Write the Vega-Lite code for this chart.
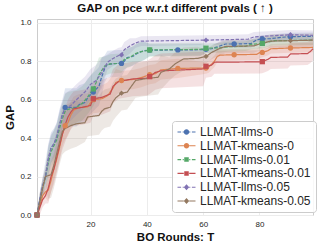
{
"$schema": "https://vega.github.io/schema/vega-lite/v6.json",
"width": 276, "height": 196,
"autosize": {"type": "none"},
"padding": {"left": 37, "top": 19, "right": 6, "bottom": 33},
"background": "white",
"config": {
  "font": "Liberation Sans",
  "view": {"stroke": "#cccccc", "strokeWidth": 1},
  "axis": {"grid": true, "gridColor": "#ececec", "gridWidth": 1, "domain": false, "ticks": false, "labelFontSize": 8, "labelColor": "#262626", "titleFontSize": 11.5, "titleFontWeight": "bold", "titleColor": "#111111", "labelOverlap": false, "labelFlush": false, "labelBound": false}
},
"title": {"text": "GAP on pce w.r.t different pvals ( ↑ )", "fontSize": 11.5, "fontWeight": "bold", "color": "#111111", "offset": 4, "anchor": "middle"},
"data": {"values": [
{"s":"LLMAT-llms-0","x":1,"y":0,"lo":0,"hi":0,"m":1},
{"s":"LLMAT-llms-0","x":2,"y":0.08,"lo":0.05,"hi":0.11},
{"s":"LLMAT-llms-0","x":3,"y":0.15,"lo":0.10,"hi":0.20},
{"s":"LLMAT-llms-0","x":4,"y":0.20,"lo":0.12,"hi":0.28},
{"s":"LLMAT-llms-0","x":5,"y":0.29,"lo":0.21,"hi":0.37},
{"s":"LLMAT-llms-0","x":6,"y":0.35,"lo":0.27,"hi":0.43},
{"s":"LLMAT-llms-0","x":7,"y":0.37,"lo":0.29,"hi":0.45},
{"s":"LLMAT-llms-0","x":8,"y":0.40,"lo":0.32,"hi":0.48},
{"s":"LLMAT-llms-0","x":9,"y":0.47,"lo":0.39,"hi":0.55},
{"s":"LLMAT-llms-0","x":10,"y":0.52,"lo":0.44,"hi":0.60},
{"s":"LLMAT-llms-0","x":11,"y":0.56,"lo":0.46,"hi":0.66,"m":1},
{"s":"LLMAT-llms-0","x":12,"y":0.56,"lo":0.46,"hi":0.66},
{"s":"LLMAT-llms-0","x":15,"y":0.56,"lo":0.46,"hi":0.66},
{"s":"LLMAT-llms-0","x":16,"y":0.575,"lo":0.475,"hi":0.675},
{"s":"LLMAT-llms-0","x":18,"y":0.585,"lo":0.485,"hi":0.685},
{"s":"LLMAT-llms-0","x":19,"y":0.61,"lo":0.51,"hi":0.71},
{"s":"LLMAT-llms-0","x":21,"y":0.64,"lo":0.54,"hi":0.74,"m":1},
{"s":"LLMAT-llms-0","x":22,"y":0.655,"lo":0.555,"hi":0.755},
{"s":"LLMAT-llms-0","x":23,"y":0.67,"lo":0.57,"hi":0.77},
{"s":"LLMAT-llms-0","x":24,"y":0.72,"lo":0.62,"hi":0.82},
{"s":"LLMAT-llms-0","x":25,"y":0.76,"lo":0.69,"hi":0.83},
{"s":"LLMAT-llms-0","x":26,"y":0.785,"lo":0.715,"hi":0.855},
{"s":"LLMAT-llms-0","x":30,"y":0.789,"lo":0.719,"hi":0.859},
{"s":"LLMAT-llms-0","x":31,"y":0.789,"lo":0.719,"hi":0.859,"m":1},
{"s":"LLMAT-llms-0","x":32,"y":0.80,"lo":0.75,"hi":0.85},
{"s":"LLMAT-llms-0","x":33,"y":0.82,"lo":0.77,"hi":0.87},
{"s":"LLMAT-llms-0","x":35,"y":0.825,"lo":0.775,"hi":0.875},
{"s":"LLMAT-llms-0","x":37,"y":0.845,"lo":0.795,"hi":0.895},
{"s":"LLMAT-llms-0","x":39,"y":0.855,"lo":0.805,"hi":0.905},
{"s":"LLMAT-llms-0","x":41,"y":0.858,"lo":0.828,"hi":0.888,"m":1},
{"s":"LLMAT-llms-0","x":51,"y":0.859,"lo":0.829,"hi":0.889,"m":1},
{"s":"LLMAT-llms-0","x":59,"y":0.86,"lo":0.83,"hi":0.89},
{"s":"LLMAT-llms-0","x":61,"y":0.862,"lo":0.842,"hi":0.882,"m":1},
{"s":"LLMAT-llms-0","x":63,"y":0.865,"lo":0.845,"hi":0.885},
{"s":"LLMAT-llms-0","x":65,"y":0.875,"lo":0.855,"hi":0.895},
{"s":"LLMAT-llms-0","x":67,"y":0.885,"lo":0.865,"hi":0.905},
{"s":"LLMAT-llms-0","x":68,"y":0.89,"lo":0.87,"hi":0.91},
{"s":"LLMAT-llms-0","x":71,"y":0.89,"lo":0.87,"hi":0.91,"m":1},
{"s":"LLMAT-llms-0","x":77,"y":0.892,"lo":0.872,"hi":0.912},
{"s":"LLMAT-llms-0","x":79,"y":0.912,"lo":0.892,"hi":0.932},
{"s":"LLMAT-llms-0","x":81,"y":0.916,"lo":0.896,"hi":0.936,"m":1},
{"s":"LLMAT-llms-0","x":84,"y":0.918,"lo":0.898,"hi":0.938},
{"s":"LLMAT-llms-0","x":88,"y":0.925,"lo":0.905,"hi":0.945},
{"s":"LLMAT-llms-0","x":91,"y":0.928,"lo":0.908,"hi":0.948,"m":1},
{"s":"LLMAT-llms-0","x":99,"y":0.93,"lo":0.91,"hi":0.95},

{"s":"LLMAT-kmeans-0","x":1,"y":0,"lo":0,"hi":0,"m":1},
{"s":"LLMAT-kmeans-0","x":2,"y":0.05,"lo":0.02,"hi":0.08},
{"s":"LLMAT-kmeans-0","x":3,"y":0.10,"lo":0.07,"hi":0.13},
{"s":"LLMAT-kmeans-0","x":4,"y":0.12,"lo":0.09,"hi":0.15},
{"s":"LLMAT-kmeans-0","x":5,"y":0.13,"lo":0.07,"hi":0.19},
{"s":"LLMAT-kmeans-0","x":6,"y":0.18,"lo":0.12,"hi":0.24},
{"s":"LLMAT-kmeans-0","x":7,"y":0.24,"lo":0.18,"hi":0.30},
{"s":"LLMAT-kmeans-0","x":8,"y":0.29,"lo":0.23,"hi":0.35},
{"s":"LLMAT-kmeans-0","x":9,"y":0.35,"lo":0.29,"hi":0.41},
{"s":"LLMAT-kmeans-0","x":10,"y":0.42,"lo":0.36,"hi":0.48},
{"s":"LLMAT-kmeans-0","x":11,"y":0.465,"lo":0.395,"hi":0.535,"m":1},
{"s":"LLMAT-kmeans-0","x":12,"y":0.48,"lo":0.41,"hi":0.55},
{"s":"LLMAT-kmeans-0","x":13,"y":0.52,"lo":0.45,"hi":0.59},
{"s":"LLMAT-kmeans-0","x":14,"y":0.545,"lo":0.475,"hi":0.615},
{"s":"LLMAT-kmeans-0","x":16,"y":0.56,"lo":0.49,"hi":0.63},
{"s":"LLMAT-kmeans-0","x":19,"y":0.562,"lo":0.492,"hi":0.632},
{"s":"LLMAT-kmeans-0","x":20,"y":0.585,"lo":0.515,"hi":0.655},
{"s":"LLMAT-kmeans-0","x":21,"y":0.60,"lo":0.53,"hi":0.67,"m":1},
{"s":"LLMAT-kmeans-0","x":24,"y":0.605,"lo":0.535,"hi":0.675},
{"s":"LLMAT-kmeans-0","x":26,"y":0.62,"lo":0.55,"hi":0.69},
{"s":"LLMAT-kmeans-0","x":28,"y":0.66,"lo":0.59,"hi":0.73},
{"s":"LLMAT-kmeans-0","x":29,"y":0.69,"lo":0.62,"hi":0.76},
{"s":"LLMAT-kmeans-0","x":31,"y":0.70,"lo":0.65,"hi":0.75,"m":1},
{"s":"LLMAT-kmeans-0","x":35,"y":0.705,"lo":0.655,"hi":0.755},
{"s":"LLMAT-kmeans-0","x":38,"y":0.715,"lo":0.665,"hi":0.765},
{"s":"LLMAT-kmeans-0","x":41,"y":0.73,"lo":0.68,"hi":0.78,"m":1},
{"s":"LLMAT-kmeans-0","x":43,"y":0.735,"lo":0.685,"hi":0.785},
{"s":"LLMAT-kmeans-0","x":45,"y":0.755,"lo":0.705,"hi":0.805},
{"s":"LLMAT-kmeans-0","x":51,"y":0.763,"lo":0.713,"hi":0.813,"m":1},
{"s":"LLMAT-kmeans-0","x":61,"y":0.765,"lo":0.735,"hi":0.795,"m":1},
{"s":"LLMAT-kmeans-0","x":62,"y":0.77,"lo":0.74,"hi":0.80},
{"s":"LLMAT-kmeans-0","x":64,"y":0.80,"lo":0.77,"hi":0.83},
{"s":"LLMAT-kmeans-0","x":65,"y":0.825,"lo":0.795,"hi":0.855},
{"s":"LLMAT-kmeans-0","x":66,"y":0.832,"lo":0.802,"hi":0.862},
{"s":"LLMAT-kmeans-0","x":71,"y":0.834,"lo":0.804,"hi":0.864,"m":1},
{"s":"LLMAT-kmeans-0","x":79,"y":0.836,"lo":0.806,"hi":0.866},
{"s":"LLMAT-kmeans-0","x":80,"y":0.845,"lo":0.815,"hi":0.875},
{"s":"LLMAT-kmeans-0","x":81,"y":0.846,"lo":0.821,"hi":0.871,"m":1},
{"s":"LLMAT-kmeans-0","x":83,"y":0.855,"lo":0.83,"hi":0.88},
{"s":"LLMAT-kmeans-0","x":84,"y":0.865,"lo":0.84,"hi":0.89},
{"s":"LLMAT-kmeans-0","x":91,"y":0.869,"lo":0.844,"hi":0.894,"m":1},
{"s":"LLMAT-kmeans-0","x":99,"y":0.872,"lo":0.847,"hi":0.897},

{"s":"LLMAT-llms-0.01","x":1,"y":0,"lo":0,"hi":0,"m":1},
{"s":"LLMAT-llms-0.01","x":2,"y":0.07,"lo":0.03,"hi":0.11},
{"s":"LLMAT-llms-0.01","x":3,"y":0.14,"lo":0.10,"hi":0.18},
{"s":"LLMAT-llms-0.01","x":4,"y":0.20,"lo":0.16,"hi":0.24},
{"s":"LLMAT-llms-0.01","x":5,"y":0.27,"lo":0.19,"hi":0.35},
{"s":"LLMAT-llms-0.01","x":6,"y":0.33,"lo":0.25,"hi":0.41},
{"s":"LLMAT-llms-0.01","x":7,"y":0.36,"lo":0.28,"hi":0.44},
{"s":"LLMAT-llms-0.01","x":8,"y":0.39,"lo":0.31,"hi":0.47},
{"s":"LLMAT-llms-0.01","x":9,"y":0.45,"lo":0.37,"hi":0.53},
{"s":"LLMAT-llms-0.01","x":10,"y":0.50,"lo":0.42,"hi":0.58},
{"s":"LLMAT-llms-0.01","x":11,"y":0.54,"lo":0.45,"hi":0.63},
{"s":"LLMAT-llms-0.01","x":12,"y":0.55,"lo":0.46,"hi":0.64},
{"s":"LLMAT-llms-0.01","x":15,"y":0.56,"lo":0.47,"hi":0.65},
{"s":"LLMAT-llms-0.01","x":17,"y":0.58,"lo":0.49,"hi":0.67},
{"s":"LLMAT-llms-0.01","x":19,"y":0.615,"lo":0.525,"hi":0.705},
{"s":"LLMAT-llms-0.01","x":21,"y":0.656,"lo":0.566,"hi":0.746,"m":1},
{"s":"LLMAT-llms-0.01","x":22,"y":0.69,"lo":0.60,"hi":0.78},
{"s":"LLMAT-llms-0.01","x":23,"y":0.73,"lo":0.64,"hi":0.82},
{"s":"LLMAT-llms-0.01","x":25,"y":0.775,"lo":0.725,"hi":0.825},
{"s":"LLMAT-llms-0.01","x":27,"y":0.786,"lo":0.736,"hi":0.836},
{"s":"LLMAT-llms-0.01","x":31,"y":0.79,"lo":0.74,"hi":0.84},
{"s":"LLMAT-llms-0.01","x":32,"y":0.81,"lo":0.76,"hi":0.86},
{"s":"LLMAT-llms-0.01","x":34,"y":0.82,"lo":0.77,"hi":0.87},
{"s":"LLMAT-llms-0.01","x":36,"y":0.84,"lo":0.79,"hi":0.89},
{"s":"LLMAT-llms-0.01","x":38,"y":0.85,"lo":0.80,"hi":0.90},
{"s":"LLMAT-llms-0.01","x":41,"y":0.859,"lo":0.824,"hi":0.894,"m":1},
{"s":"LLMAT-llms-0.01","x":59,"y":0.862,"lo":0.827,"hi":0.897},
{"s":"LLMAT-llms-0.01","x":61,"y":0.868,"lo":0.843,"hi":0.893,"m":1},
{"s":"LLMAT-llms-0.01","x":66,"y":0.87,"lo":0.845,"hi":0.895},
{"s":"LLMAT-llms-0.01","x":69,"y":0.876,"lo":0.851,"hi":0.901},
{"s":"LLMAT-llms-0.01","x":75,"y":0.878,"lo":0.853,"hi":0.903},
{"s":"LLMAT-llms-0.01","x":77,"y":0.888,"lo":0.863,"hi":0.913},
{"s":"LLMAT-llms-0.01","x":81,"y":0.893,"lo":0.868,"hi":0.918,"m":1},
{"s":"LLMAT-llms-0.01","x":83,"y":0.90,"lo":0.875,"hi":0.925},
{"s":"LLMAT-llms-0.01","x":85,"y":0.907,"lo":0.882,"hi":0.932},
{"s":"LLMAT-llms-0.01","x":99,"y":0.91,"lo":0.885,"hi":0.935},

{"s":"LLMAT-kmeans-0.01","x":1,"y":0,"lo":0,"hi":0,"m":1},
{"s":"LLMAT-kmeans-0.01","x":2,"y":0.04,"lo":0,"hi":0.08},
{"s":"LLMAT-kmeans-0.01","x":3,"y":0.08,"lo":0.04,"hi":0.12},
{"s":"LLMAT-kmeans-0.01","x":4,"y":0.10,"lo":0.06,"hi":0.14},
{"s":"LLMAT-kmeans-0.01","x":5,"y":0.14,"lo":0.06,"hi":0.22},
{"s":"LLMAT-kmeans-0.01","x":6,"y":0.20,"lo":0.12,"hi":0.28},
{"s":"LLMAT-kmeans-0.01","x":7,"y":0.24,"lo":0.16,"hi":0.32},
{"s":"LLMAT-kmeans-0.01","x":8,"y":0.30,"lo":0.22,"hi":0.38},
{"s":"LLMAT-kmeans-0.01","x":9,"y":0.36,"lo":0.28,"hi":0.44},
{"s":"LLMAT-kmeans-0.01","x":10,"y":0.42,"lo":0.34,"hi":0.50},
{"s":"LLMAT-kmeans-0.01","x":11,"y":0.47,"lo":0.38,"hi":0.56},
{"s":"LLMAT-kmeans-0.01","x":12,"y":0.51,"lo":0.42,"hi":0.60},
{"s":"LLMAT-kmeans-0.01","x":13,"y":0.535,"lo":0.445,"hi":0.625},
{"s":"LLMAT-kmeans-0.01","x":14,"y":0.553,"lo":0.463,"hi":0.643},
{"s":"LLMAT-kmeans-0.01","x":17,"y":0.56,"lo":0.47,"hi":0.65},
{"s":"LLMAT-kmeans-0.01","x":20,"y":0.57,"lo":0.48,"hi":0.66},
{"s":"LLMAT-kmeans-0.01","x":21,"y":0.605,"lo":0.515,"hi":0.695,"m":1},
{"s":"LLMAT-kmeans-0.01","x":24,"y":0.612,"lo":0.522,"hi":0.702},
{"s":"LLMAT-kmeans-0.01","x":27,"y":0.63,"lo":0.54,"hi":0.72},
{"s":"LLMAT-kmeans-0.01","x":28,"y":0.67,"lo":0.58,"hi":0.76},
{"s":"LLMAT-kmeans-0.01","x":30,"y":0.695,"lo":0.605,"hi":0.785},
{"s":"LLMAT-kmeans-0.01","x":35,"y":0.708,"lo":0.618,"hi":0.798},
{"s":"LLMAT-kmeans-0.01","x":40,"y":0.712,"lo":0.622,"hi":0.802},
{"s":"LLMAT-kmeans-0.01","x":41,"y":0.72,"lo":0.63,"hi":0.81,"m":1},
{"s":"LLMAT-kmeans-0.01","x":43,"y":0.742,"lo":0.652,"hi":0.832},
{"s":"LLMAT-kmeans-0.01","x":45,"y":0.75,"lo":0.66,"hi":0.84},
{"s":"LLMAT-kmeans-0.01","x":60,"y":0.76,"lo":0.67,"hi":0.85},
{"s":"LLMAT-kmeans-0.01","x":61,"y":0.774,"lo":0.714,"hi":0.834,"m":1},
{"s":"LLMAT-kmeans-0.01","x":63,"y":0.78,"lo":0.72,"hi":0.84},
{"s":"LLMAT-kmeans-0.01","x":64,"y":0.795,"lo":0.735,"hi":0.855},
{"s":"LLMAT-kmeans-0.01","x":80,"y":0.797,"lo":0.737,"hi":0.857},
{"s":"LLMAT-kmeans-0.01","x":81,"y":0.798,"lo":0.738,"hi":0.858,"m":1},
{"s":"LLMAT-kmeans-0.01","x":83,"y":0.81,"lo":0.75,"hi":0.87},
{"s":"LLMAT-kmeans-0.01","x":84,"y":0.82,"lo":0.76,"hi":0.88},
{"s":"LLMAT-kmeans-0.01","x":90,"y":0.822,"lo":0.762,"hi":0.882},
{"s":"LLMAT-kmeans-0.01","x":91,"y":0.838,"lo":0.778,"hi":0.898},
{"s":"LLMAT-kmeans-0.01","x":97,"y":0.84,"lo":0.78,"hi":0.90},
{"s":"LLMAT-kmeans-0.01","x":98,"y":0.85,"lo":0.79,"hi":0.91},
{"s":"LLMAT-kmeans-0.01","x":99,"y":0.865,"lo":0.805,"hi":0.925},

{"s":"LLMAT-llms-0.05","x":1,"y":0,"lo":0,"hi":0,"m":1},
{"s":"LLMAT-llms-0.05","x":2,"y":0.08,"lo":0.04,"hi":0.12},
{"s":"LLMAT-llms-0.05","x":3,"y":0.15,"lo":0.11,"hi":0.19},
{"s":"LLMAT-llms-0.05","x":4,"y":0.20,"lo":0.16,"hi":0.24},
{"s":"LLMAT-llms-0.05","x":5,"y":0.29,"lo":0.22,"hi":0.36},
{"s":"LLMAT-llms-0.05","x":6,"y":0.35,"lo":0.28,"hi":0.42},
{"s":"LLMAT-llms-0.05","x":7,"y":0.37,"lo":0.30,"hi":0.44},
{"s":"LLMAT-llms-0.05","x":8,"y":0.41,"lo":0.34,"hi":0.48},
{"s":"LLMAT-llms-0.05","x":9,"y":0.47,"lo":0.40,"hi":0.54},
{"s":"LLMAT-llms-0.05","x":10,"y":0.52,"lo":0.45,"hi":0.59},
{"s":"LLMAT-llms-0.05","x":11,"y":0.555,"lo":0.475,"hi":0.635},
{"s":"LLMAT-llms-0.05","x":13,"y":0.57,"lo":0.49,"hi":0.65},
{"s":"LLMAT-llms-0.05","x":15,"y":0.60,"lo":0.52,"hi":0.68},
{"s":"LLMAT-llms-0.05","x":18,"y":0.64,"lo":0.56,"hi":0.72},
{"s":"LLMAT-llms-0.05","x":20,"y":0.68,"lo":0.60,"hi":0.76},
{"s":"LLMAT-llms-0.05","x":22,"y":0.70,"lo":0.62,"hi":0.78},
{"s":"LLMAT-llms-0.05","x":24,"y":0.74,"lo":0.66,"hi":0.82},
{"s":"LLMAT-llms-0.05","x":26,"y":0.795,"lo":0.755,"hi":0.835},
{"s":"LLMAT-llms-0.05","x":28,"y":0.815,"lo":0.775,"hi":0.855},
{"s":"LLMAT-llms-0.05","x":30,"y":0.83,"lo":0.79,"hi":0.87},
{"s":"LLMAT-llms-0.05","x":31,"y":0.833,"lo":0.793,"hi":0.873,"m":1},
{"s":"LLMAT-llms-0.05","x":32,"y":0.86,"lo":0.82,"hi":0.90},
{"s":"LLMAT-llms-0.05","x":34,"y":0.88,"lo":0.84,"hi":0.92},
{"s":"LLMAT-llms-0.05","x":36,"y":0.895,"lo":0.87,"hi":0.92},
{"s":"LLMAT-llms-0.05","x":38,"y":0.905,"lo":0.88,"hi":0.93},
{"s":"LLMAT-llms-0.05","x":61,"y":0.91,"lo":0.885,"hi":0.935,"m":1},
{"s":"LLMAT-llms-0.05","x":76,"y":0.915,"lo":0.89,"hi":0.94},
{"s":"LLMAT-llms-0.05","x":78,"y":0.927,"lo":0.902,"hi":0.952},
{"s":"LLMAT-llms-0.05","x":91,"y":0.938,"lo":0.913,"hi":0.963,"m":1},
{"s":"LLMAT-llms-0.05","x":99,"y":0.935,"lo":0.91,"hi":0.96},

{"s":"LLMAT-kmeans-0.05","x":1,"y":0,"lo":0,"hi":0,"m":1},
{"s":"LLMAT-kmeans-0.05","x":2,"y":0.07,"lo":0.02,"hi":0.12},
{"s":"LLMAT-kmeans-0.05","x":3,"y":0.14,"lo":0.09,"hi":0.19},
{"s":"LLMAT-kmeans-0.05","x":4,"y":0.20,"lo":0.15,"hi":0.25},
{"s":"LLMAT-kmeans-0.05","x":5,"y":0.205,"lo":0.085,"hi":0.325},
{"s":"LLMAT-kmeans-0.05","x":6,"y":0.21,"lo":0.09,"hi":0.33},
{"s":"LLMAT-kmeans-0.05","x":7,"y":0.26,"lo":0.14,"hi":0.38},
{"s":"LLMAT-kmeans-0.05","x":8,"y":0.32,"lo":0.20,"hi":0.44},
{"s":"LLMAT-kmeans-0.05","x":9,"y":0.38,"lo":0.26,"hi":0.50},
{"s":"LLMAT-kmeans-0.05","x":10,"y":0.435,"lo":0.315,"hi":0.555},
{"s":"LLMAT-kmeans-0.05","x":11,"y":0.45,"lo":0.33,"hi":0.57},
{"s":"LLMAT-kmeans-0.05","x":13,"y":0.465,"lo":0.345,"hi":0.585},
{"s":"LLMAT-kmeans-0.05","x":15,"y":0.475,"lo":0.355,"hi":0.595},
{"s":"LLMAT-kmeans-0.05","x":18,"y":0.48,"lo":0.38,"hi":0.58},
{"s":"LLMAT-kmeans-0.05","x":19,"y":0.51,"lo":0.41,"hi":0.61},
{"s":"LLMAT-kmeans-0.05","x":23,"y":0.518,"lo":0.418,"hi":0.618},
{"s":"LLMAT-kmeans-0.05","x":24,"y":0.54,"lo":0.44,"hi":0.64},
{"s":"LLMAT-kmeans-0.05","x":25,"y":0.553,"lo":0.453,"hi":0.653},
{"s":"LLMAT-kmeans-0.05","x":27,"y":0.561,"lo":0.461,"hi":0.661},
{"s":"LLMAT-kmeans-0.05","x":28,"y":0.59,"lo":0.49,"hi":0.69},
{"s":"LLMAT-kmeans-0.05","x":29,"y":0.61,"lo":0.51,"hi":0.71},
{"s":"LLMAT-kmeans-0.05","x":31,"y":0.634,"lo":0.544,"hi":0.724,"m":1},
{"s":"LLMAT-kmeans-0.05","x":33,"y":0.639,"lo":0.549,"hi":0.729},
{"s":"LLMAT-kmeans-0.05","x":35,"y":0.68,"lo":0.59,"hi":0.77},
{"s":"LLMAT-kmeans-0.05","x":36,"y":0.70,"lo":0.61,"hi":0.79},
{"s":"LLMAT-kmeans-0.05","x":39,"y":0.708,"lo":0.618,"hi":0.798},
{"s":"LLMAT-kmeans-0.05","x":44,"y":0.717,"lo":0.627,"hi":0.807},
{"s":"LLMAT-kmeans-0.05","x":45,"y":0.742,"lo":0.652,"hi":0.832},
{"s":"LLMAT-kmeans-0.05","x":48,"y":0.76,"lo":0.70,"hi":0.82},
{"s":"LLMAT-kmeans-0.05","x":50,"y":0.786,"lo":0.726,"hi":0.846},
{"s":"LLMAT-kmeans-0.05","x":53,"y":0.812,"lo":0.752,"hi":0.872},
{"s":"LLMAT-kmeans-0.05","x":58,"y":0.815,"lo":0.755,"hi":0.875},
{"s":"LLMAT-kmeans-0.05","x":61,"y":0.825,"lo":0.79,"hi":0.86,"m":1},
{"s":"LLMAT-kmeans-0.05","x":63,"y":0.846,"lo":0.811,"hi":0.881},
{"s":"LLMAT-kmeans-0.05","x":66,"y":0.868,"lo":0.833,"hi":0.903},
{"s":"LLMAT-kmeans-0.05","x":68,"y":0.877,"lo":0.842,"hi":0.912},
{"s":"LLMAT-kmeans-0.05","x":78,"y":0.88,"lo":0.845,"hi":0.915},
{"s":"LLMAT-kmeans-0.05","x":80,"y":0.89,"lo":0.855,"hi":0.925},
{"s":"LLMAT-kmeans-0.05","x":84,"y":0.905,"lo":0.87,"hi":0.94},
{"s":"LLMAT-kmeans-0.05","x":91,"y":0.907,"lo":0.872,"hi":0.942,"m":1},
{"s":"LLMAT-kmeans-0.05","x":99,"y":0.91,"lo":0.875,"hi":0.945}
]},
"encoding": {
  "x": {"field": "x", "type": "quantitative", "scale": {"domain": [1, 99], "nice": false, "zero": false},
        "axis": {"title": "BO Rounds: T", "values": [20, 40, 60, 80], "labelPadding": 5, "titlePadding": 3}}
},
"layer": [
  {"mark": {"type": "area", "opacity": 0.17},
   "encoding": {
     "y": {"field": "lo", "type": "quantitative", "scale": {"domain": [0, 1.02], "nice": false},
           "axis": {"title": "GAP", "values": [0, 0.2, 0.4, 0.6, 0.8, 1.0], "format": ".1f", "labelPadding": 6, "titlePadding": 4}},
     "y2": {"field": "hi"},
     "fill": {"field": "s", "type": "nominal", "legend": null,
              "scale": {"range": ["#dd8452","#c44e52","#937860","#4c72b0","#55a868","#8172b3"]}}
   }},
  {"mark": {"type": "line", "strokeWidth": 1.2},
   "encoding": {
     "y": {"field": "y", "type": "quantitative", "scale": {"domain": [0, 1.02], "nice": false},
           "axis": {"title": "GAP", "values": [0, 0.2, 0.4, 0.6, 0.8, 1.0], "format": ".1f", "labelPadding": 6, "titlePadding": 4}},
     "stroke": {"field": "s", "type": "nominal", "legend": null,
              "scale": {"range": ["#dd8452","#c44e52","#937860","#4c72b0","#55a868","#8172b3"]}},
     "strokeDash": {"field": "s", "type": "nominal", "legend": null,
                    "scale": {"range": [[1,0],[1,0],[1,0],[3.5,1.5],[3.5,1.5],[3.5,1.5]]}}
   }},
  {"transform": [{"filter": "datum.m == 1"}],
   "mark": {"type": "point", "filled": true, "opacity": 1, "size": 28},
   "encoding": {
     "y": {"field": "y", "type": "quantitative", "scale": {"domain": [0, 1.02], "nice": false},
           "axis": {"title": "GAP", "values": [0, 0.2, 0.4, 0.6, 0.8, 1.0], "format": ".1f", "labelPadding": 6, "titlePadding": 4}},
     "shape": {"field": "s", "type": "nominal", "legend": null,
               "scale": {"range": ["circle","square","diamond","circle","square","diamond"]}},
     "color": {"field": "s", "type": "nominal",
               "scale": {"domain": ["LLMAT-llms-0","LLMAT-kmeans-0","LLMAT-llms-0.01","LLMAT-kmeans-0.01","LLMAT-llms-0.05","LLMAT-kmeans-0.05"],
                         "range": ["#4c72b0","#dd8452","#55a868","#c44e52","#8172b3","#937860"]},
               "legend": {
                 "title": null, "orient": "none", "legendX": 135, "legendY": 102,
                 "labelFontSize": 12, "labelColor": "#262626", "labelLimit": 300, "labelOffset": 11,
                 "symbolSize": 100, "symbolStrokeWidth": 0, "symbolOpacity": 1,
                 "rowPadding": 1.8, "padding": 5,
                 "fillColor": "rgba(255,255,255,0.85)", "strokeColor": "#cccccc", "cornerRadius": 3,
                 "encode": {"symbols": {"update": {
                   "opacity": {"value": 1},
                   "fill": {"scale": "color", "field": "value"},
                   "stroke": {"value": "transparent"},
                   "shape": {"signal": "datum.value==='LLMAT-llms-0' ? 'M-1.1,-0.11H-0.38V0.11H-1.1Z M-0.06,-0.11H0.16V0.11H-0.06Z M1.24,-0.11H1.46V0.11H1.24Z M1.78,-0.11H2.5V0.11H1.78Z M0.16,0A0.54,0.54,0,1,1,1.24,0A0.54,0.54,0,1,1,0.16,0Z' : datum.value==='LLMAT-kmeans-0' ? 'M-1.1,-0.11H0.16V0.11H-1.1Z M1.24,-0.11H2.5V0.11H1.24Z M0.16,0A0.54,0.54,0,1,1,1.24,0A0.54,0.54,0,1,1,0.16,0Z' : datum.value==='LLMAT-llms-0.01' ? 'M-1.1,-0.11H-0.38V0.11H-1.1Z M-0.06,-0.11H0.16V0.11H-0.06Z M1.24,-0.11H1.46V0.11H1.24Z M1.78,-0.11H2.5V0.11H1.78Z M0.25,-0.45H1.15V0.45H0.25Z' : datum.value==='LLMAT-kmeans-0.01' ? 'M-1.1,-0.11H0.16V0.11H-1.1Z M1.24,-0.11H2.5V0.11H1.24Z M0.25,-0.45H1.15V0.45H0.25Z' : datum.value==='LLMAT-llms-0.05' ? 'M-1.1,-0.11H-0.38V0.11H-1.1Z M-0.06,-0.11H0.16V0.11H-0.06Z M1.24,-0.11H1.46V0.11H1.24Z M1.78,-0.11H2.5V0.11H1.78Z M0.7,-0.61L1.24,0L0.7,0.61L0.16,0Z' : 'M-1.1,-0.11H0.16V0.11H-1.1Z M1.24,-0.11H2.5V0.11H1.24Z M0.7,-0.61L1.24,0L0.7,0.61L0.16,0Z'"}
                 }}}
               }}
   }}
]
}
